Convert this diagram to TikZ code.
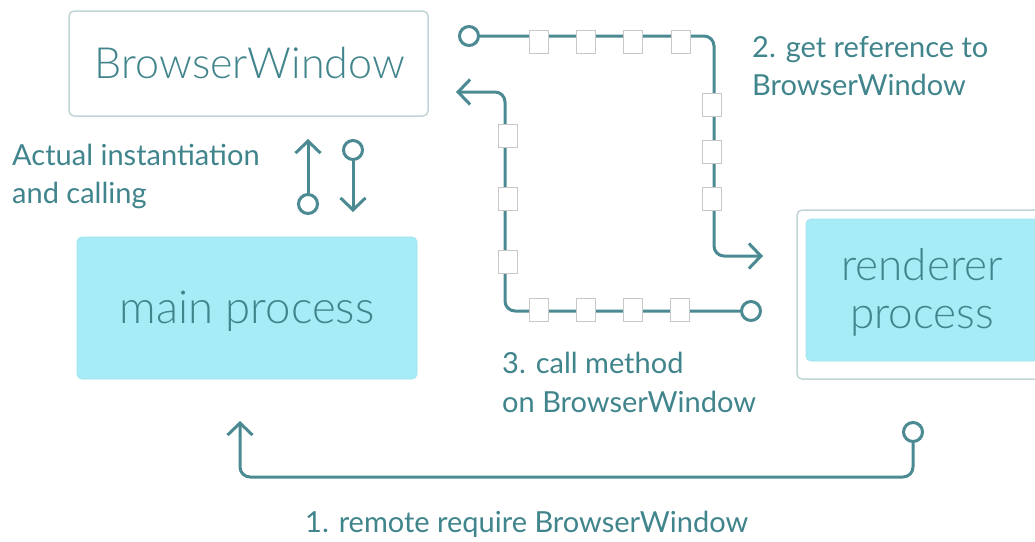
\documentclass[tikz,border=0pt]{standalone}
\usepackage{fontspec}
\setmainfont{Lato}
\newfontfamily\lightfont{Lato Light}
\usetikzlibrary{arrows.meta}
\definecolor{teal1}{HTML}{40848C}
\definecolor{line1}{HTML}{4B8A92}
\definecolor{cyanfill}{HTML}{A6ECF7}
\definecolor{boxedge}{HTML}{C3D4D7}
\definecolor{sqedge}{HTML}{C8C8C8}
\tikzset{
  frame/.style={draw=boxedge, line width=1.5pt, fill=white, rounded corners=5pt, inner sep=0pt},
  proc/.style={fill=cyanfill, draw=cyanfill!80!black!20!cyanfill, line width=0.8pt, rounded corners=5pt, inner sep=0pt},
  boxtext/.style={text=teal1, font=\lightfont\fontsize{43}{48}\selectfont, inner sep=0pt},
  lbl/.style={text=teal1, font=\fontsize{29}{34}\selectfont, inner sep=0pt, anchor=base west},
  conn/.style={draw=line1, line width=3pt, rounded corners=10pt, -{Straight Barb[length=12pt,width=25pt]}},
  dot/.style={circle, draw=line1, line width=3pt, fill=white, minimum size=19pt, inner sep=0pt},
  sq/.style={draw=sqedge, line width=0.8pt, fill=white, minimum width=19pt, minimum height=23pt, inner sep=0pt}
}
\begin{document}
\begin{tikzpicture}[x=1pt,y=-1pt]
\useasboundingbox (0,0) rectangle (1035,541);
% boxes
\node[frame, minimum width=359pt, minimum height=105pt] (bw) at (248.5,63.5) {};
\node[boxtext] (bwt) at (250,63) {BrowserWindow};
\node[proc, minimum width=340pt, minimum height=142pt] (mp) at (247,308) {};
\node[boxtext, font=\lightfont\fontsize{45.5}{50}\selectfont] (mpt) at (247,311) {main process};
\node[frame, minimum width=258pt, minimum height=169pt] (rpo) at (926,294.5) {};
\node[proc, minimum width=249pt, minimum height=142pt] (rp) at (930.5,290) {};
\node[boxtext, font=\lightfont\fontsize{44}{48}\selectfont, align=center] (rpt) at (922,292) {renderer\\process};
% instantiation arrows
\node[dot] (d1) at (308,204) {};
\coordinate (t1) at (308,139);
\draw[conn] (d1) -- (t1);
\node[dot] (d2) at (353,150) {};
\coordinate (t2) at (353,212);
\draw[conn] (d2) -- (t2);
% path 2
\node[dot] (d3) at (469,36) {};
\coordinate (t3) at (763,256);
\draw[conn] (d3) -- (714,36) -- (714,256) -- (t3);
\foreach \x/\n in {539/a,586/b,633/c,681/d} \node[sq] (s2\n) at (\x,42) {};
\foreach \y/\n in {105/e,152/f,199/g} \node[sq] (s2\n) at (712,\y) {};
% path 3
\node[dot] (d4) at (751,311) {};
\coordinate (t4) at (456,92);
\draw[conn] (d4) -- (505,311) -- (505,92) -- (t4);
\foreach \x/\n in {539/a,586/b,633/c,680/d} \node[sq] (s3\n) at (\x,310) {};
\foreach \y/\n in {136/e,199/f,262/g} \node[sq] (s3\n) at (507.5,\y) {};
% path 1
\node[dot] (d5) at (913,432) {};
\coordinate (t5) at (240,421);
\draw[conn] (d5) -- (913,477) -- (240,477) -- (t5);
% labels
\node[lbl] (l2a) at (752,57) {2. get reference to};
\node[lbl] (l2b) at (752,95) {BrowserWindow};
\node[lbl] (l3a) at (502,373) {3. call method};
\node[lbl] (l3b) at (502,412) {on BrowserWindow};
\node[lbl] (lia) at (12,165) {Actual instantiation};
\node[lbl] (lib) at (12,203) {and calling};
\node[lbl] (l1) at (305,532) {1. remote require BrowserWindow};
\end{tikzpicture}
\end{document}
